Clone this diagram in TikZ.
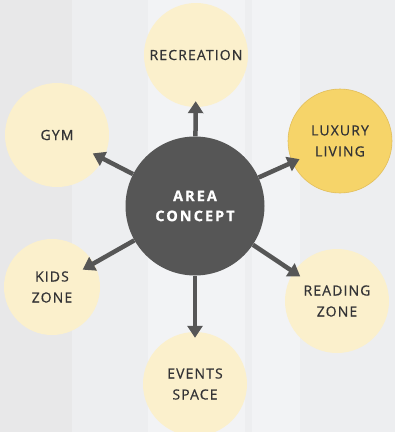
\documentclass[tikz,border=0pt]{standalone}
\usepackage{fontspec}
\setmainfont{Open Sans}
\usetikzlibrary{arrows.meta}
\definecolor{bgg}{HTML}{E8E8E9}
\definecolor{bgl}{HTML}{EDEEF0}
\definecolor{bgw}{HTML}{F2F3F5}
\definecolor{pale}{HTML}{FBF0CC}
\definecolor{gold}{HTML}{F6D469}
\definecolor{goldline}{HTML}{E2BE5A}
\definecolor{hub}{HTML}{565656}
\definecolor{txt}{HTML}{333335}
\begin{document}
\begin{tikzpicture}[x=1pt,y=-1pt,
  outer/.style={circle,fill=pale,minimum size=104pt,inner sep=0pt,align=center,text=txt,
    font=\fontsize{14}{21}\selectfont\addfontfeatures{LetterSpace=8,FakeBold=0.6}},
  hubnode/.style={circle,fill=hub,minimum size=139pt,inner sep=0pt,align=center,text=white,
    font=\fontsize{14.5}{20}\bfseries\selectfont\addfontfeatures{LetterSpace=14,FakeBold=1}},
  arr/.style={draw=hub,line width=4.5pt,-{Triangle[length=12pt,width=15pt]}}]
\useasboundingbox (0,0) rectangle (395,432);
\clip (0,0) rectangle (395,432);
\fill[bgg] (0,0) rectangle (395,432);
\fill[bgl] (72,0) rectangle (148,432);
\fill[bgw] (148,0) rectangle (245,432);
\fill[bgl] (245,0) rectangle (252,432);
\fill[bgw] (252,0) rectangle (300,432);
\fill[bgl] (300,0) rectangle (395,432);
\node[outer] (rec) at (196,55) {RECREATION};
\node[outer] (gym) at (57,135) {GYM};
\node[outer,fill=gold,draw=goldline,line width=0.6pt] (lux) at (340,141) {LUXURY\\LIVING};
\node[outer,minimum size=96pt] (kids) at (52,287) {KIDS\\ZONE};
\node[outer] (read) at (337,301) {READING\\ZONE};
\node[outer] (evt) at (195,384) {EVENTS\\SPACE};
\node[hubnode] (c) at (195,206) {AREA\\CONCEPT};
\draw[arr,shorten >=-6pt] (c) -- (rec);
\draw[arr,shorten >=-12pt] (c) -- (gym);
\draw[arr,shorten >=-8pt] (c) -- (lux);
\draw[arr,shorten >=-13pt] (c) -- (kids);
\draw[arr,shorten >=-8pt] (c) -- (read);
\draw[arr,shorten >=-6pt] (c) -- (evt);
\end{tikzpicture}
\end{document}
